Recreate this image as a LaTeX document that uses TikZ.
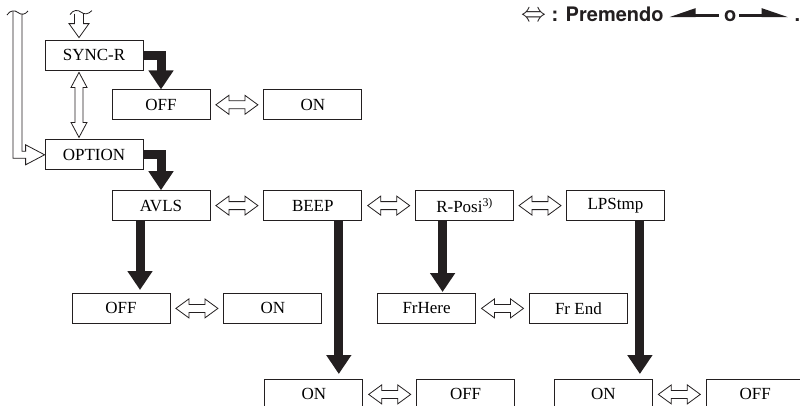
\documentclass[tikz,border=0pt]{standalone}
\usepackage{fontspec}
\setmainfont{Liberation Serif}
\newfontfamily\legendfont{TeX Gyre Heros}
\usetikzlibrary{arrows.meta, positioning, calc}
\definecolor{ink}{RGB}{35, 31, 32}
\tikzset{
  box/.style={rectangle, draw=ink, line width=0.8pt, minimum width=98pt,
    minimum height=30pt, inner sep=0pt, align=center,
    font=\fontsize{17}{20}\selectfont},
  blk/.style={line width=9pt, draw=ink, -{Triangle[length=19pt, width=24pt]}},
  hollow/.style={draw=ink, line width=0.8pt, fill=white, line join=miter},
  legend/.style={inner sep=0pt, text=ink, font=\legendfont\bfseries\fontsize{20}{24}\selectfont},
  legarr/.style={line width=3pt, draw=ink},
  hdbl/.pic={\draw[hollow] (-21,0) -- (-8,9.5) -- (-8,4) -- (8,4) -- (8,9.5)
    -- (21,0) -- (8,-9.5) -- (8,-4) -- (-8,-4) -- (-8,-9.5) -- cycle;},
  vdbl/.pic={\draw[hollow] (0,32.5) -- (8,17.5) -- (4,17.5) -- (4,-17.5) -- (8,-17.5)
    -- (0,-32.5) -- (-8,-17.5) -- (-4,-17.5) -- (-4,17.5) -- (-8,17.5) -- cycle;},
  vdown/.pic={\draw[hollow] (-4.5,26.5) -- (-4.5,14) -- (-10,14) -- (0,0) -- (10,14)
    -- (4.5,14) -- (4.5,24.5);
    \draw[hollow] (-9,23) .. controls (-6,28) and (-1,28) .. (2,25.5)
    .. controls (5,23) and (9,23) .. (13,27);},
}

\begin{document}
\begin{tikzpicture}[x=1pt, y=1pt]

  \fill[white] (0,0) rectangle (800,-405);
  \useasboundingbox (0,0) rectangle (800,-405);
  \clip (0,0) rectangle (800,-405);

  % -- SYNC-R branch --
  \node[box] (syncr) at (94,-55) {SYNC-R};
  \node[box, below=19pt of syncr, xshift=67pt] (off1) {OFF};
  \node[box, right=53pt of off1] (on1) {ON};

  % -- OPTION branch --
  \node[box, below=69pt of syncr] (option) {OPTION};
  \node[box, below=20pt of option, xshift=67pt] (avls) {AVLS};
  \node[box, right=53pt of avls] (beep) {BEEP};
  \node[box, right=53pt of beep] (rposi) {R-Posi\textsuperscript{3)}};
  \node[box, right=52pt of rposi] (lpstmp) {LPStmp};

  % -- Second level --
  \node[box, below=72pt of avls, xshift=-40pt] (off2) {OFF};
  \node[box, right=53pt of off2] (on2) {ON};
  \node[box, right=55pt of on2] (frhere) {FrHere};
  \node[box, right=53pt of frhere] (frend) {Fr End};

  \node[box, below=158pt of beep, xshift=1pt] (on3) {ON};
  \node[box, right=53pt of on3] (off3) {OFF};
  \node[box, below=158pt of lpstmp, xshift=-12pt] (on4) {ON};
  \node[box, right=53pt of on4] (off4) {OFF};

  % -- Legend --
  \node[legend, anchor=base west] (legkey) at (521,-21)
    {\scalebox{1.2}[1.3]{$\Leftrightarrow$} : Premendo};
  \node[legend, base right=60pt of legkey] (legor) {o};
  \node[legend, base right=58pt of legor] (legdot) {.};

  % -- Hollow arrows --
  \coordinate (loopcut) at (17.5,-12);
  \draw[hollow, fill=none] ([xshift=-4.5pt,yshift=1pt]loopcut) |- ([xshift=-19pt,yshift=-3.5pt]option.west)
    -- ++(0,-6.5) -- (option.west) -- ++(-19,10) -- ++(0,-6.5) -| ([xshift=4.5pt,yshift=-1.5pt]loopcut);
  \draw[hollow, fill=none] (7,-15) .. controls (10,-10) and (15,-10) .. (18,-12.5)
    .. controls (21,-15) and (25,-15) .. (28,-11);
  \pic at ([xshift=-15pt,yshift=2pt]syncr.north) {vdown};
  \pic at ([xshift=-15pt]$(syncr.south)!.5!(option.north)$) {vdbl};

  \pic at ($(off1.east)!.5!(on1.west)$) {hdbl};
  \pic at ($(avls.east)!.5!(beep.west)$) {hdbl};
  \pic at ($(beep.east)!.5!(rposi.west)$) {hdbl};
  \pic at ($(rposi.east)!.5!(lpstmp.west)$) {hdbl};
  \pic at ($(off2.east)!.5!(on2.west)$) {hdbl};
  \pic at ($(frhere.east)!.5!(frend.west)$) {hdbl};
  \pic at ($(on3.east)!.5!(off3.west)$) {hdbl};
  \pic at ($(on4.east)!.5!(off4.west)$) {hdbl};

  % -- Black arrows --
  \draw[blk] (syncr.east) -| (off1.north);
  \draw[blk] (option.east) -| (avls.north);
  \draw[blk, shorten >=3pt] ([xshift=-21pt]avls.south) -- ([xshift=-21pt]avls.south |- off2.north);
  \draw[blk, shorten >=5pt] ([xshift=26pt]beep.south) -- ([xshift=26pt]beep.south |- on3.north);
  \draw[blk, shorten >=1pt] ([xshift=-22pt]rposi.south) -- ([xshift=-22pt]rposi.south |- frhere.north);
  \draw[blk, shorten >=5pt] ([xshift=24.5pt]lpstmp.south) -- ([xshift=24.5pt]lpstmp.south |- on4.north);

  % -- Legend arrows --
  \draw[legarr, shorten <=5pt, shorten >=5pt, -{Triangle[harpoon, swap, length=22pt, width=14pt]}]
    (legor.west) -- (legor.west -| legkey.east);
  \draw[legarr, shorten <=3pt, shorten >=6pt, -{Triangle[harpoon, length=22pt, width=14pt]}]
    (legor.east) -- (legor.east -| legdot.west);

\end{tikzpicture}
\end{document}
